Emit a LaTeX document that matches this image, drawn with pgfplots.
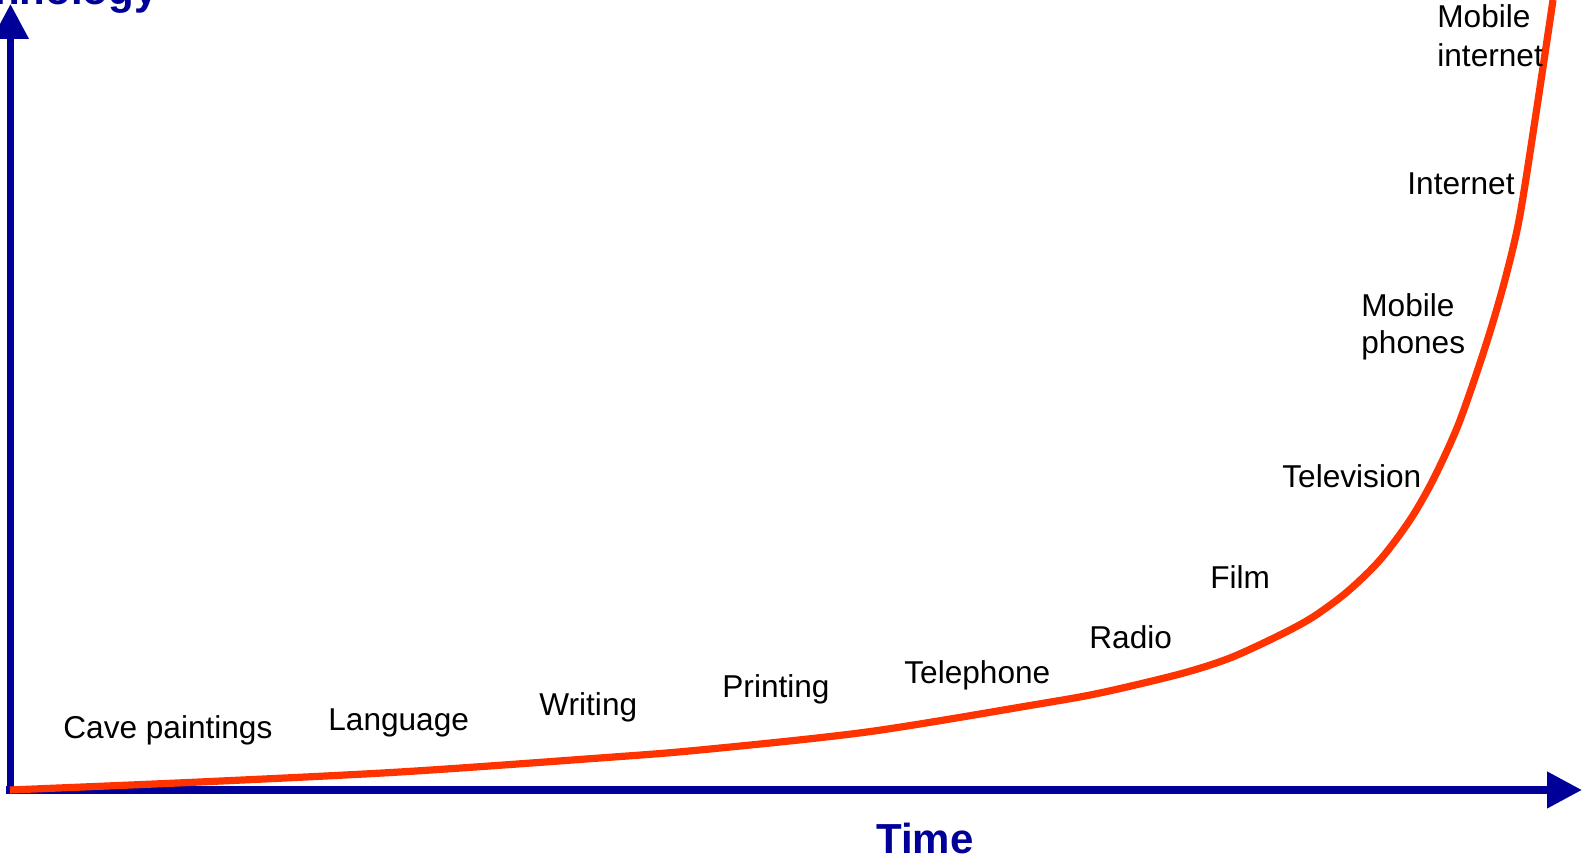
\documentclass[border=0pt]{standalone}
\usepackage{fontspec}
\setmainfont{Liberation Sans}
\usepackage{pgfplots}
\pgfplotsset{compat=1.18}
\usetikzlibrary{arrows.meta}
\definecolor{axblue}{RGB}{0,0,153}
\definecolor{curvered}{RGB}{255,51,0}
\begin{document}
\begin{tikzpicture}
\begin{axis}[
  width=793pt, height=430pt, scale only axis,
  xmin=0, xmax=1586, ymin=0, ymax=860,
  hide axis, clip=false,
]
\coordinate (sw) at (axis cs:0,0);
\coordinate (ne) at (axis cs:1586,860);
% axes
\draw[axblue, line width=3.75pt, -{Triangle[length=17.5pt,width=17.5pt]}] (axis cs:6,70) -- (axis cs:1582,70);
\draw[axblue, line width=3.5pt, -{Triangle[length=17.5pt,width=17.5pt]}] (axis cs:10.5,68) -- (axis cs:10.5,856);
% curve
\addplot[curvered, line width=3.6pt, smooth, tension=0.5, line cap=butt] coordinates {
(10,70) (200,78) (400,88) (600,102) (700,110) (867,128) (1033,155)
(1100,167) (1180,186) (1230,202) (1280,225) (1313,243) (1347,268)
(1380,300) (1410,340) (1433,380) (1457,432) (1477,488) (1493,538)
(1507,588) (1520,645) (1537,753) (1553,860)
};
% labels
\tikzset{lbl/.style={anchor=base west, inner sep=0pt, font=\fontsize{15.8}{18.5}\selectfont}}
\node[lbl] at (axis cs:63,121) {Cave paintings};
\node[lbl] at (axis cs:328,129) {Language};
\node[lbl] at (axis cs:539,144) {Writing};
\node[lbl] at (axis cs:722,162) {Printing};
\node[lbl] at (axis cs:904,176) {Telephone};
\node[lbl] at (axis cs:1089,211) {Radio};
\node[lbl] at (axis cs:1210,271) {Film};
\node[lbl] at (axis cs:1282,372) {Television};
\node[lbl] at (axis cs:1361,543) {Mobile};
\node[lbl] at (axis cs:1361,506) {phones};
\node[lbl] at (axis cs:1407,665) {Internet};
\node[lbl] at (axis cs:1437,832) {Mobile};
\node[lbl] at (axis cs:1437,793) {internet};
% axis titles
\node[anchor=base, inner sep=0pt, text=axblue, font=\fontsize{21}{25}\selectfont\bfseries] at (axis cs:925,6) {Time};
\node[anchor=base east, inner sep=0pt, text=axblue, font=\fontsize{21}{25}\selectfont\bfseries] at (axis cs:158,855) {Technology};
\end{axis}
\pgfresetboundingbox
\path[use as bounding box] (sw) rectangle (ne);
\end{tikzpicture}
\end{document}
